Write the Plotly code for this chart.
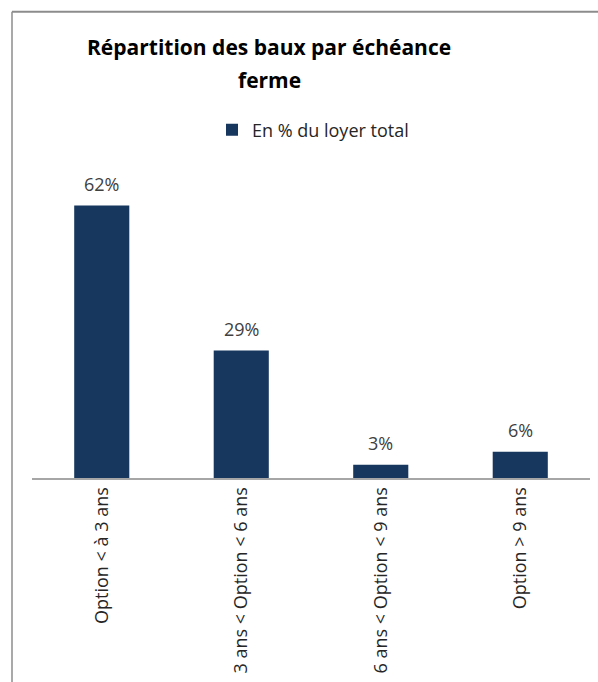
import plotly.graph_objects as go

categories = ["Option < à 3 ans", "3 ans < Option < 6 ans", "6 ans < Option < 9 ans", "Option > 9 ans"]
values = [62, 29, 3, 6]
labels = ["62%", "29%", "3%", "6%"]
series_name = "En % du loyer total"
title_line1 = "Répartition des baux par échéance"
title_line2 = "ferme"

W, H = 598, 682
ml, mr, mt, mb = 32, 8, 149, 202
plot_h = H - mt - mb
plot_w = W - ml - mr
px_per_unit = 4.42
ymax = plot_h / px_per_unit


def py(y_px):
    return (H - mb - y_px) / plot_h


def px(x_px):
    return (x_px - ml) / plot_w


fig = go.Figure()
fig.add_trace(go.Bar(
    x=categories, y=values, name=series_name,
    marker=dict(color="#17375E", line=dict(width=0)),
    width=0.395,
))

annotations = [
    dict(text="<b>" + title_line1 + "</b>", xref="paper", yref="paper",
         x=px(269), y=py(46), xanchor="center", yanchor="middle", showarrow=False,
         font=dict(family="Open Sans", size=21, color="#000000")),
    dict(text="<b>" + title_line2 + "</b>", xref="paper", yref="paper",
         x=px(269), y=py(80), xanchor="center", yanchor="middle", showarrow=False,
         font=dict(family="Open Sans", size=21, color="#000000")),
]
for c, v, t in zip(categories, values, labels):
    annotations.append(dict(text=t, x=c, y=v, xref="x", yref="y",
                            xanchor="center", yanchor="bottom", yshift=8,
                            showarrow=False,
                            font=dict(family="Open Sans", size=18, color="#404040")))

fig.update_layout(
    width=W, height=H,
    margin=dict(l=ml, r=mr, t=mt, b=mb),
    paper_bgcolor="white", plot_bgcolor="white",
    showlegend=True,
    legend=dict(orientation="h", x=px(212), xanchor="left",
                y=py(130), yanchor="middle",
                font=dict(family="Open Sans", size=18, color="#262626"),
                itemwidth=30),
    xaxis=dict(tickangle=-90, showline=True, linecolor="#A6A6A6", linewidth=2,
               ticks="", tickfont=dict(family="Open Sans", size=18, color="#262626"),
               showgrid=False),
    yaxis=dict(range=[0, ymax], visible=False, showgrid=False),
    annotations=annotations,
    shapes=[
        dict(type="line", xref="paper", yref="paper",
             x0=px(12), x1=px(W + 5), y0=py(11), y1=py(11),
             line=dict(color="#8C8C8C", width=2)),
        dict(type="line", xref="paper", yref="paper",
             x0=px(12), x1=px(12), y0=py(11), y1=py(H + 5),
             line=dict(color="#8C8C8C", width=1.5)),
    ],
)

fig.write_html("out.html")
